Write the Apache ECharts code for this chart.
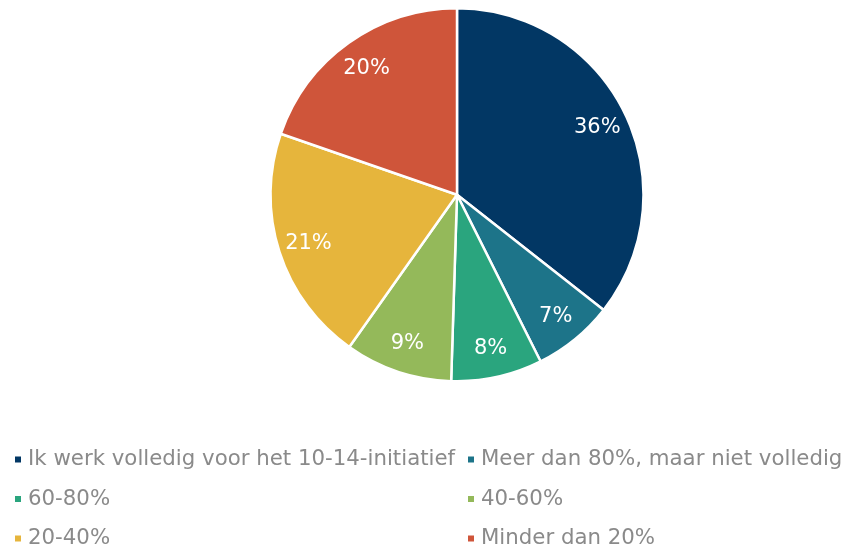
<!DOCTYPE html>
<html>
<head>
<meta charset="utf-8">
<script src="https://cdn.jsdelivr.net/npm/echarts@6/dist/echarts.min.js"></script>
<style>
  html, body { margin: 0; padding: 0; background: #fff; }
  #chart { width: 843px; height: 546px; }
</style>
</head>
<body>
<div id="chart"></div>
<script>
// aandeel per categorie (geschat uit de figuur)
const categories = [
    'Ik werk volledig voor het 10-14-initiatief',
    'Meer dan 80%, maar niet volledig',
    '60-80%',
    '40-60%',
    '20-40%',
    'Minder dan 20%',
]
const values = [35.6, 7.0, 7.9, 9.3, 20.5, 19.7]
const colors = ['#023764', '#1d7489', '#2aa57e', '#94b95a', '#e6b53c', '#cf553a']

const total = values.reduce((a, b) => a + b, 0)
const pieData = categories.map((name, i) => ({ name, value: values[i] }))

let chart = echarts.init(document.getElementById('chart'))

const legendBase = {
    orient: 'vertical',
    top: 447.5,
    height: 140,
    padding: 0,
    itemWidth: 8,
    itemHeight: 8,
    itemGap: 15.5,
    icon: 'rect',
    selectedMode: false,
    textStyle: {
        fontFamily: 'DejaVu Sans',
        fontSize: 21.3,
        lineHeight: 24,
        color: '#8a8a8a',
        padding: [0, 0, 0, 1],
    },
}

let option = {
    color: colors,
    animation: false,
    legend: [
        Object.assign({}, legendBase, { left: 13, data: [categories[0], categories[2], categories[4]] }),
        Object.assign({}, legendBase, { left: 466, data: [categories[1], categories[3], categories[5]] }),
    ],
    series: [
        {
            type: 'pie',
            center: [457, 194.75],
            radius: [0, 186.5],
            startAngle: 90,
            clockwise: true,
            data: pieData,
            itemStyle: {
                borderColor: '#fff',
                borderWidth: 2.5,
            },
            label: { show: false },
            labelLine: { show: false },
            emphasis: { disabled: true },
        },
        {
            // alleen voor de labels, op ca. 80% van de straal
            type: 'pie',
            center: [457, 196],
            radius: [0, 306],
            startAngle: 90,
            clockwise: true,
            silent: true,
            data: pieData,
            itemStyle: { color: 'rgba(0,0,0,0)', borderWidth: 0 },
            label: {
                show: true,
                position: 'inside',
                formatter: (p) => Math.round(p.value / total * 100) + '%',
                color: '#fff',
                fontFamily: 'DejaVu Sans',
                fontSize: 21,
            },
            labelLine: { show: false },
            emphasis: { disabled: true },
        },
    ],
}

chart.setOption(option)
window.addEventListener('resize', () => {
    chart.resize()
})
</script>
</body>
</html>
